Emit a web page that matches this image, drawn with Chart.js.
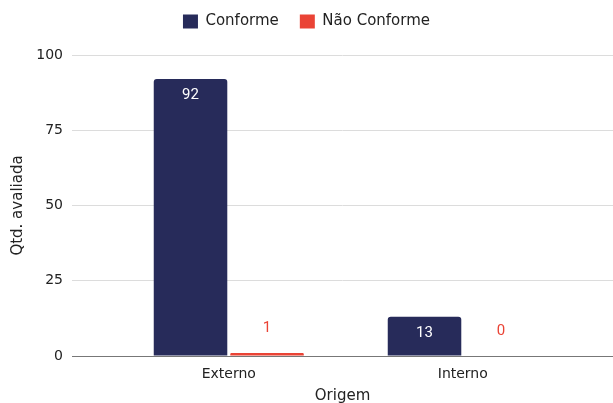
<!DOCTYPE html>
<html>
<head>
<meta charset="utf-8">
<script src="https://cdn.jsdelivr.net/npm/chart.js@4"></script>
<style>
  html, body { margin: 0; padding: 0; background: #fff; overflow: hidden; }
  #wrap { width: 613px; height: 403px; overflow: hidden; }
</style>
</head>
<body>
<div id="wrap"><canvas id="chart" width="613" height="410"></canvas></div>
<script>
const categories = ['Externo', 'Interno'];
const conforme = [92, 13];
const naoConforme = [1, 0];
const yTicks = [0, 25, 50, 75, 100];

const NAVY = '#272b5a';
const RED = '#ea4335';

// keep the legend box tall so the plot starts where the reference does
const legendHeight = {
  id: 'legendHeight',
  beforeInit(chart) {
    const fit = chart.legend.fit;
    chart.legend.fit = function () {
      fit.bind(chart.legend)();
      this.height = 62;
    };
  }
};

// value labels: inside the bar top when it fits, above it otherwise
const barLabels = {
  id: 'barLabels',
  afterDatasetsDraw(chart) {
    const ctx = chart.ctx;
    ctx.save();
    ctx.font = '15px Roboto';
    ctx.textAlign = 'center';
    ctx.textBaseline = 'middle';
    chart.data.datasets.forEach((ds, i) => {
      chart.getDatasetMeta(i).data.forEach((bar, j) => {
        const v = ds.data[j].y;
        const h = bar.base - bar.y;
        if (h > 30) {
          ctx.fillStyle = '#fff';
          ctx.fillText(v, bar.x, bar.y + 16.5);
        } else {
          ctx.fillStyle = ds.backgroundColor;
          ctx.fillText(v, bar.x, bar.y - 25);
        }
      });
    });
    ctx.restore();
  }
};

const toPoints = arr => arr.map((y, x) => ({ x, y }));

new Chart(document.getElementById('chart'), {
  type: 'bar',
  data: {
    datasets: [
      { label: 'Conforme', data: toPoints(conforme), backgroundColor: NAVY },
      { label: 'Não Conforme', data: toPoints(naoConforme), backgroundColor: RED }
    ]
  },
  options: {
    responsive: false,
    animation: false,
    layout: { padding: { top: -7, left: 0, right: 0, bottom: 0 } },
    datasets: {
      bar: {
        categoryPercentage: 0.654,
        barPercentage: 0.961,
        borderRadius: { topLeft: 3, topRight: 3, bottomLeft: 0, bottomRight: 0 },
        borderSkipped: 'start'
      }
    },
    plugins: {
      legend: {
        position: 'top',
        labels: {
          boxWidth: 15,
          boxHeight: 14,
          padding: 21,
          color: '#222',
          font: { family: 'DejaVu Sans', size: 15 }
        }
      },
      tooltip: { enabled: false }
    },
    scales: {
      x: {
        type: 'linear',
        min: -0.67,
        max: 1.642,
        offset: false,
        afterBuildTicks(scale) {
          scale.ticks = categories.map((c, i) => ({ value: i }));
        },
        afterFit(scale) { scale.height = 54; },
        grid: { display: false, drawTicks: false },
        border: { display: true, color: '#777', width: 1 },
        ticks: {
          autoSkip: false,
          maxRotation: 0,
          padding: 10,
          color: '#222',
          font: { family: 'DejaVu Sans', size: 14 },
          callback: v => categories[v] ?? ''
        },
        title: {
          display: true,
          text: 'Origem',
          color: '#222',
          font: { family: 'DejaVu Sans', size: 15 },
          padding: { top: 0, bottom: 4.5 }
        }
      },
      y: {
        min: 0,
        max: 100,
        afterBuildTicks(scale) {
          scale.ticks = yTicks.map(value => ({ value }));
        },
        afterFit(scale) { scale.width = 72; },
        grid: {
          drawTicks: false,
          color: c => c.tick && c.tick.value === 0 ? '#777' : '#dcdcdc'
        },
        border: { display: false },
        ticks: {
          padding: 9,
          color: '#222',
          font: { family: 'DejaVu Sans', size: 14 }
        },
        title: {
          display: true,
          text: 'Qtd. avaliada',
          color: '#222',
          font: { family: 'DejaVu Sans', size: 15 },
          padding: { top: 9, bottom: 0 }
        }
      }
    }
  },
  plugins: [legendHeight, barLabels]
});
</script>
</body>
</html>
